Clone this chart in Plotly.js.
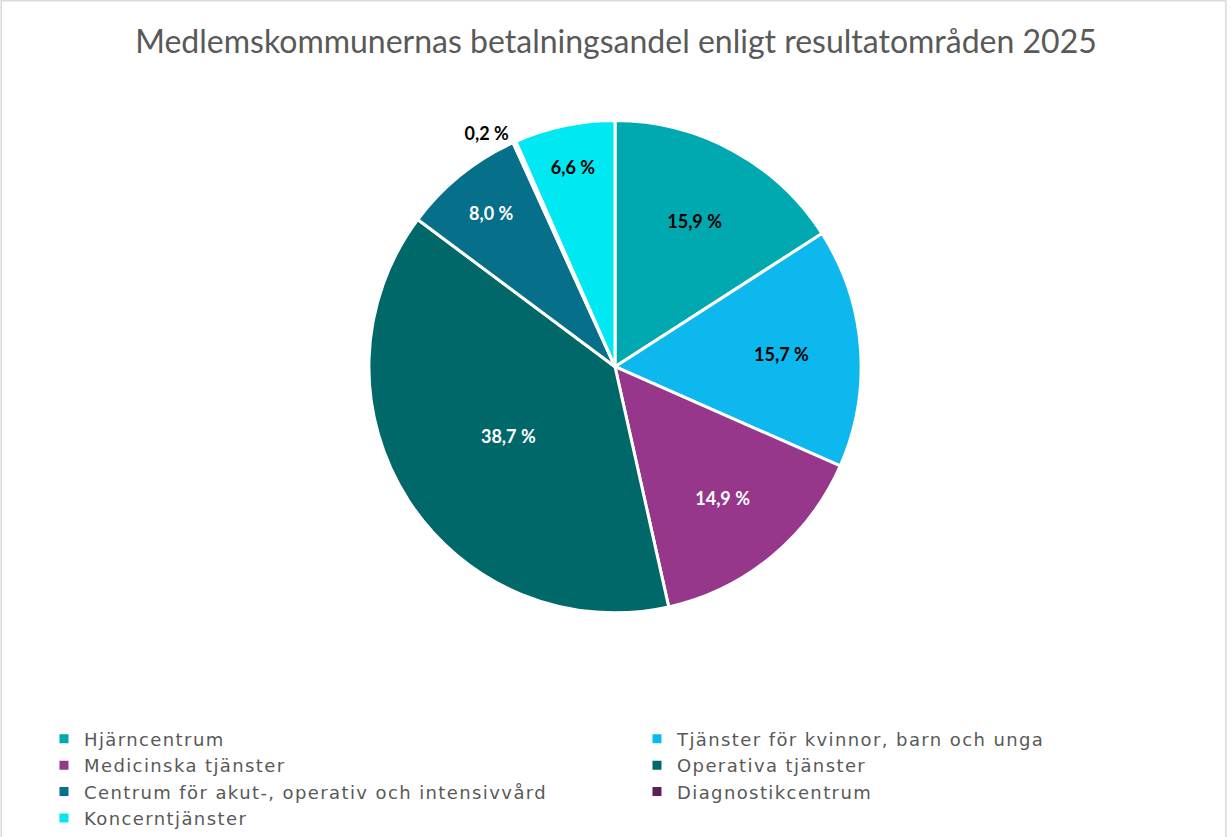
<!DOCTYPE html>
<html><head><meta charset="utf-8">
<script src="https://cdn.plot.ly/plotly-3.0.1.min.js"></script>
<style>body{margin:0;background:#fff}#chart{width:1232px;height:837px}
#chart .legendtext{letter-spacing:1.4px}</style>
</head><body><div id="chart"></div>
<script>
const categories = ["Hjärncentrum","Tjänster för kvinnor, barn och unga","Medicinska tjänster","Operativa tjänster","Centrum för akut-, operativ och intensivvård","Diagnostikcentrum","Koncerntjänster"];
const shares = [15.9, 15.7, 14.9, 38.7, 8.0, 0.2, 6.6];
const colors = ["#00A9B0","#0DB8EE","#96378C","#006869","#066F8A","#5B1F58","#00E8F2"];
const labelColors = ["#000000","#000000","#ffffff","#ffffff","#ffffff","#000000","#000000"];
const labelPositions = ["inside","inside","inside","inside","inside","outside","inside"];

const trace = {
  type: "pie",
  labels: categories,
  values: shares,
  sort: false,
  direction: "clockwise",
  rotation: 0,
  marker: {colors: colors, line: {color: "#ffffff", width: 3}},
  texttemplate: "%{value:.1f} %",
  textposition: labelPositions,
  insidetextorientation: "horizontal",
  textfont: {family: "Lato, 'DejaVu Sans', sans-serif", size: 18, color: labelColors, weight: "bold"},
  outsidetextfont: {family: "Lato, 'DejaVu Sans', sans-serif", size: 18, color: "#000000", weight: "bold"},
  hoverinfo: "label+percent",
  domain: {x: [0.2987, 0.6997], y: [0.2652, 0.8554]}
};

const layout = {
  width: 1232, height: 837,
  margin: {l: 0, r: 0, t: 0, b: 0},
  separators: ", ",
  paper_bgcolor: "#ffffff",
  title: {text: "Medlemskommunernas betalningsandel enligt resultatområden 2025",
    font: {family: "Lato, 'DejaVu Sans', sans-serif", size: 32, color: "#595959"},
    x: 0.5, xanchor: "center", y: 0.95, yanchor: "middle"},
  showlegend: true,
  legend: {orientation: "h", x: 0.0357, xanchor: "left", y: 0.136, yanchor: "top",
    entrywidth: 548, entrywidthmode: "pixels", traceorder: "normal",
    bgcolor: "rgba(0,0,0,0)",
    font: {family: "'DejaVu Sans', sans-serif", size: 18, color: "#595959"},
    itemclick: false},
  shapes: [{type: "rect", xref: "paper", yref: "paper", x0: 0.001, x1: 0.995, y0: -0.01, y1: 0.999,
    line: {color: "#D9D9D9", width: 1.5}, fillcolor: "rgba(0,0,0,0)"}]
};

Plotly.newPlot("chart", [trace], layout, {displayModeBar: false, staticPlot: true});
</script>
</body></html>
